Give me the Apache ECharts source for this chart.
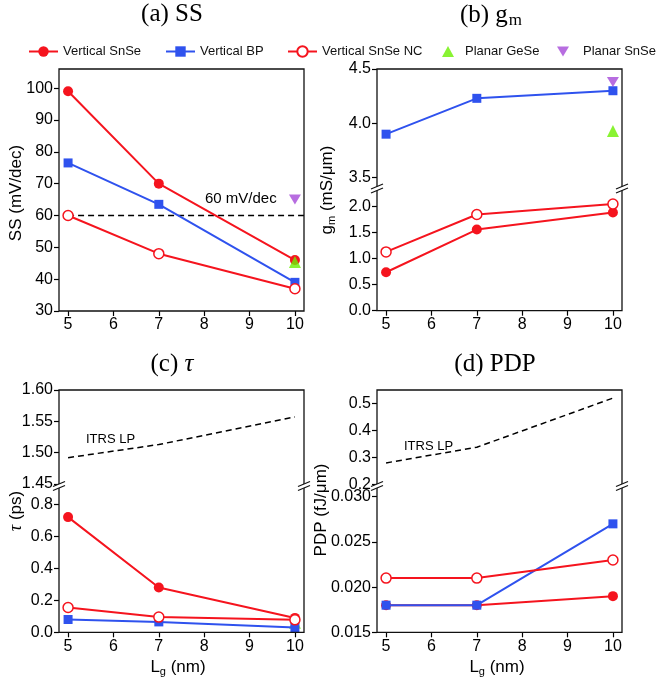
<!DOCTYPE html>
<html><head><meta charset="utf-8">
<script src="https://cdn.jsdelivr.net/npm/echarts@6/dist/echarts.min.js"></script>
<style>html,body{margin:0;padding:0;background:#fff}#c{width:661px;height:684px}</style>
</head><body><div id="c"></div>
<script>
// ---------- data ----------
const lg = [5, 7, 10];
const xTicks = [5, 6, 7, 8, 9, 10];
// (a) SS (mV/dec)
const ssSnSe = [99, 70, 46];
const ssBP = [76.5, 63.5, 39];
const ssNC = [60, 48, 37];
const ssGeSe = [[10, 45.4]];
const ssPlanarSnSe = [[10, 65]];
const ssRef = [[5, 60], [10.2, 60]];
const ssTicks = [30, 40, 50, 60, 70, 80, 90, 100];
// (b) gm (mS/um)
const gmSnSe = [0.74, 1.56, 1.89];
const gmBP = [3.90, 4.23, 4.30];
const gmNC = [1.13, 1.85, 2.05];
const gmGeSe = [[10, 3.93]];
const gmPlanarSnSe = [[10, 4.38]];
const gmTicksUpper = [3.5, 4.0, 4.5];
const gmTicksLower = [0, 0.5, 1.0, 1.5, 2.0];
// (c) tau (ps)
const tauSnSe = [0.72, 0.28, 0.09];
const tauBP = [0.08, 0.065, 0.03];
const tauNC = [0.155, 0.095, 0.078];
const tauGeSe = [[10, 0.06]];
const tauITRS = [[5, 1.492], [7, 1.513], [10, 1.557]];
const tauTicksUpper = [1.45, 1.50, 1.55, 1.60];
const tauTicksLower = [0, 0.2, 0.4, 0.6, 0.8];
// (d) PDP (fJ/um)
const pdpSnSe = [0.018, 0.018, 0.019];
const pdpBP = [0.018, 0.018, 0.027];
const pdpNC = [0.021, 0.021, 0.023];
const pdpITRS = [[5, 0.28], [7, 0.338], [10, 0.52]];
const pdpTicksUpper = [0.2, 0.3, 0.4, 0.5];
const pdpTicksLower = [0.015, 0.020, 0.025, 0.030];

// ---------- style / layout ----------
const SANS = '"Liberation Sans", Arial, sans-serif';
const SERIF = '"Liberation Serif", "Times New Roman", serif';
const RED = '#f5141e', BLUE = '#2f52ee', GREEN = '#6cf000', PURPLE = '#a548d8';
const G = [
  {left: 59, top: 69, width: 245, height: 242},      // a
  {left: 377, top: 69, width: 245, height: 119.5},   // b upper
  {left: 377, top: 188.5, width: 245, height: 122.2},// b lower
  {left: 59, top: 390, width: 245, height: 94},      // c upper
  {left: 59, top: 488.3, width: 245, height: 144},   // c lower
  {left: 377, top: 390, width: 245, height: 94.5},   // d upper
  {left: 377, top: 487.7, width: 245, height: 144.6} // d lower
];
const yRanges = [[30, 106], [3.4, 4.5], [0, 2.35], [1.45, 1.60], [0, 0.9], [0.2, 0.55], [0.015, 0.031]];
const yTickSets = [ssTicks, gmTicksUpper, gmTicksLower, tauTicksUpper, tauTicksLower, pdpTicksUpper, pdpTicksLower];
const yDec = [0, 1, 1, 2, 1, 1, 3];
const xShow = [true, false, true, false, true, false, true];

const pairs = arr => lg.map((x, i) => [x, arr[i]]);
const invTri = 'path://M0,0 L12,0 L6,10 Z';

function lineSeries(name, data, gi, kind) {
  const s = {name, type: 'line', xAxisIndex: gi, yAxisIndex: gi, data: pairs(data),
    lineStyle: {width: 2}, z: 3, animation: false};
  if (kind === 'snse') Object.assign(s, {symbol: 'circle', symbolSize: 10, color: RED, itemStyle: {color: RED}, lineStyle: {width: 2, color: RED}});
  if (kind === 'bp') Object.assign(s, {symbol: 'rect', symbolSize: 9, color: BLUE, itemStyle: {color: BLUE}, lineStyle: {width: 2, color: BLUE}, z: 4});
  if (kind === 'nc') Object.assign(s, {symbol: 'circle', symbolSize: 10, showAllSymbol: true, color: RED, itemStyle: {color: '#fff', borderColor: RED, borderWidth: 1.5}, lineStyle: {width: 2, color: RED}, z: 5});
  return s;
}
function scat(name, data, gi, sym, color, z) {
  return {name, type: 'scatter', xAxisIndex: gi, yAxisIndex: gi, data, symbol: sym,
    symbolSize: sym === 'triangle' ? 12 : [12, 10], itemStyle: {color}, z: z || 6, animation: false};
}
function dashed(name, data, gi) {
  return {name, type: 'line', xAxisIndex: gi, yAxisIndex: gi, data, symbol: 'none',
    lineStyle: {color: '#000', width: 1.5, type: [6, 4]}, z: 2, animation: false, silent: true};
}

const series = [
  dashed('60 mV/dec', ssRef, 0),
  lineSeries('Vertical SnSe', ssSnSe, 0, 'snse'),
  lineSeries('Vertical BP', ssBP, 0, 'bp'),
  lineSeries('Vertical SnSe NC', ssNC, 0, 'nc'),
  scat('Planar GeSe', ssGeSe, 0, 'triangle', GREEN),
  scat('Planar SnSe', ssPlanarSnSe, 0, invTri, PURPLE),

  lineSeries('Vertical BP', gmBP, 1, 'bp'),
  scat('Planar GeSe', gmGeSe, 1, 'triangle', GREEN),
  scat('Planar SnSe', gmPlanarSnSe, 1, invTri, PURPLE),
  lineSeries('Vertical SnSe', gmSnSe, 2, 'snse'),
  lineSeries('Vertical SnSe NC', gmNC, 2, 'nc'),

  dashed('ITRS LP', tauITRS, 3),
  scat('Planar GeSe', tauGeSe, 4, 'triangle', GREEN, 1),
  lineSeries('Vertical SnSe', tauSnSe, 4, 'snse'),
  lineSeries('Vertical BP', tauBP, 4, 'bp'),
  lineSeries('Vertical SnSe NC', tauNC, 4, 'nc'),

  dashed('ITRS LP', pdpITRS, 5),
  lineSeries('Vertical SnSe', pdpSnSe, 6, 'snse'),
  lineSeries('Vertical BP', pdpBP, 6, 'bp'),
  lineSeries('Vertical SnSe NC', pdpNC, 6, 'nc')
];

const grids = G.map(g => Object.assign({containLabel: false, outerBoundsMode: 'none'}, g));
const xAxes = G.map((g, i) => ({
  type: 'value', gridIndex: i, min: 4.8, max: 10.2,
  axisLine: {show: false}, splitLine: {show: false},
  axisTick: {show: xShow[i], length: 5, lineStyle: {color: '#000', width: 1.2}, customValues: xTicks},
  axisLabel: {show: xShow[i], customValues: xTicks, fontSize: 16, color: '#000', fontFamily: SANS, margin: 6}
}));
const yAxes = G.map((g, i) => ({
  type: 'value', gridIndex: i, min: yRanges[i][0], max: yRanges[i][1],
  axisLine: {show: false}, splitLine: {show: false},
  axisTick: {show: true, length: 5, lineStyle: {color: '#000', width: 1.2}, customValues: yTickSets[i]},
  axisLabel: {show: true, customValues: yTickSets[i], fontSize: 16, color: '#000', fontFamily: SANS, margin: 6,
    formatter: v => Number(v).toFixed(yDec[i])}
}));

// ---------- decorations ----------
const frames = [[59, 69, 245, 242], [377, 69, 245, 241.7], [59, 390, 245, 242.3], [377, 390, 245, 242.3]];
const breaks = [[377, 188.5], [622, 188.5], [59, 486], [304, 486], [377, 486], [622, 486]];
const graphic = [];
frames.forEach(f => graphic.push({type: 'rect', shape: {x: f[0], y: f[1], width: f[2], height: f[3]},
  style: {fill: 'none', stroke: '#111', lineWidth: 1.3}, z: 50, silent: true}));
breaks.forEach(([cx, cy]) => {
  graphic.push({type: 'polygon', shape: {points: [[cx - 6, cy + 4.5], [cx + 6, cy - 0.5], [cx + 6, cy - 4.5], [cx - 6, cy + 0.5]]},
    style: {fill: '#fff', stroke: 'none'}, z: 60, silent: true});
  graphic.push({type: 'line', shape: {x1: cx - 6, y1: cy + 4.5, x2: cx + 6, y2: cy - 0.5}, style: {stroke: '#111', lineWidth: 1.2}, z: 61, silent: true});
  graphic.push({type: 'line', shape: {x1: cx - 6, y1: cy + 0.5, x2: cx + 6, y2: cy - 4.5}, style: {stroke: '#111', lineWidth: 1.2}, z: 61, silent: true});
});
function txt(x, y, text, opts) {
  return Object.assign({type: 'text', x, y, z: 70, silent: true,
    style: Object.assign({text, fill: '#000', fontFamily: SANS, fontSize: 16, align: 'center', verticalAlign: 'middle'}, opts.style || {})},
    opts.el || {});
}
// titles
graphic.push(txt(172, 14, '(a) SS', {style: {fontFamily: SERIF, fontSize: 25}}));
graphic.push(txt(491, 16, '{t|(b) g}{s|m}', {style: {
  rich: {t: {fontFamily: SERIF, fontSize: 25, lineHeight: 26, verticalAlign: 'top'},
         s: {fontFamily: SERIF, fontSize: 17, lineHeight: 17, verticalAlign: 'bottom', padding: [0, 0, 0, 1]}}}}));
graphic.push(txt(172, 364, '(c) {i|τ}', {style: {fontFamily: SERIF, fontSize: 25,
  rich: {i: {fontFamily: SERIF, fontSize: 25, fontStyle: 'italic'}}}}));
graphic.push(txt(495, 364, '(d) PDP', {style: {fontFamily: SERIF, fontSize: 25}}));
// axis names
const subRich = {t: {fontFamily: SANS, fontSize: 17, lineHeight: 18, verticalAlign: 'top'},
                 s: {fontFamily: SANS, fontSize: 11, lineHeight: 11, verticalAlign: 'bottom'}};
graphic.push(txt(16, 193, 'SS (mV/dec)', {style: {fontSize: 17}, el: {rotation: Math.PI / 2}}));
graphic.push(txt(328, 190, '{t|g}{s|m}{t| (mS/μm)}', {style: {rich: subRich}, el: {rotation: Math.PI / 2}}));
graphic.push(txt(16, 511, '{i|τ} (ps)', {style: {fontSize: 17,
  rich: {i: {fontFamily: SERIF, fontSize: 18, fontStyle: 'italic'}}}, el: {rotation: Math.PI / 2}}));
graphic.push(txt(321, 510, 'PDP (fJ/μm)', {style: {fontSize: 17}, el: {rotation: Math.PI / 2}}));
graphic.push(txt(178, 668, '{t|L}{s|g}{t| (nm)}', {style: {rich: subRich}}));
graphic.push(txt(497, 668, '{t|L}{s|g}{t| (nm)}', {style: {rich: subRich}}));
// annotations
graphic.push(txt(205, 199, '60 mV/dec', {style: {fontSize: 15, align: 'left'}}));
graphic.push(txt(86, 439, 'ITRS LP', {style: {fontSize: 13, align: 'left'}}));
graphic.push(txt(404, 446, 'ITRS LP', {style: {fontSize: 13, align: 'left'}}));

const legTxt = {fontSize: 13, color: '#111', fontFamily: SANS};
const legend = [
  {data: ['Vertical SnSe'], left: 28, itemWidth: 29, itemHeight: 13},
  {data: ['Vertical BP'], left: 165, itemWidth: 29, itemHeight: 13},
  {data: ['Vertical SnSe NC'], left: 287, itemWidth: 29, itemHeight: 13},
  {data: ['Planar GeSe'], left: 442, itemWidth: 12, itemHeight: 11, textStyle: Object.assign({padding: [0, 0, 0, 6]}, legTxt)},
  {data: ['Planar SnSe'], left: 557, itemWidth: 12, itemHeight: 10, textStyle: Object.assign({padding: [0, 0, 0, 9]}, legTxt)}
].map(l => Object.assign({top: 45, padding: 0, textStyle: legTxt, selectedMode: false}, l));

const chart = echarts.init(document.getElementById('c'), null, {renderer: 'canvas'});
chart.setOption({
  backgroundColor: '#fff', animation: false,
  grid: grids, xAxis: xAxes, yAxis: yAxes, series, legend, graphic
});
</script></body></html>
